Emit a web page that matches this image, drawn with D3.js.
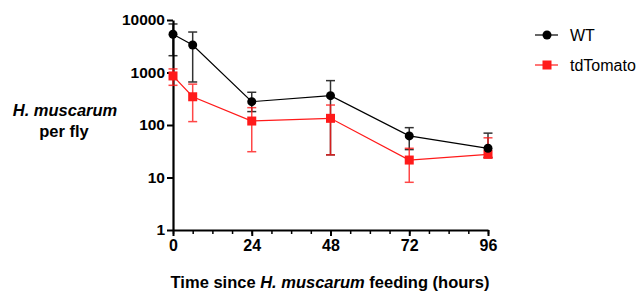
<!DOCTYPE html>
<html>
<head>
<meta charset="utf-8">
<script src="https://cdn.jsdelivr.net/npm/d3@7"></script>
<style>
  body { margin: 0; background: #fff; }
  #chart { width: 640px; height: 295px; }
  text { font-family: "Liberation Sans", Arial, sans-serif; }
</style>
</head>
<body>
<div id="chart"></div>
<script>
// time points (hours)
let hours = [0, 6, 24, 48, 72, 96];

// WT mean and error bar ends
let wtMean = [5340, 3340, 278, 362, 62, 36];
let wtHigh = [8400, 5900, 420, 700, 89, 70];
let wtLow = [2090, 660, 180, 27, 34, 24];

// tdTomato mean and error bar ends
let tdMean = [860, 345, 119, 134, 21.5, 27.6];
let tdHigh = [1170, 600, 214, 240, 36, 57];
let tdLow = [570, 116, 31, 27, 8.1, 24];

let xTicks = [0, 24, 48, 72, 96];
let xMinorTicks = d3.range(0, 97, 6);
let yTicks = [1, 10, 100, 1000, 10000];

function initChart() {
    let margin = { top: 20, left: 173 };
    let width = 315, height = 210;

    let svg = d3.select("#chart").append("svg")
        .attr("width", 640)
        .attr("height", 295);

    let g = svg.append("g")
        .attr("transform", "translate(" + margin.left + "," + margin.top + ")");

    let xScale = d3.scaleLinear().domain([0, 96]).range([0, width]);
    let yScale = d3.scaleLog().domain([1, 10000]).range([height, 0]);

    // minor x ticks
    g.append("g")
        .attr("transform", "translate(0," + height + ")")
        .call(d3.axisBottom(xScale).tickValues(xMinorTicks).tickSize(4).tickFormat(""))
        .call(a => a.select(".domain").remove())
        .selectAll("line").attr("stroke-width", 1.5);

    // x axis
    let xAxis = g.append("g")
        .attr("transform", "translate(0," + height + ")")
        .call(d3.axisBottom(xScale).tickValues(xTicks).tickSize(6).tickSizeOuter(0).tickFormat(d3.format("d")));
    xAxis.select(".domain").attr("stroke-width", 2.2);
    xAxis.selectAll(".tick line").attr("stroke-width", 2);
    xAxis.selectAll(".tick text")
        .attr("y", 10)
        .style("font-size", "16px")
        .style("font-weight", "bold")
        .attr("fill", "#000");

    // y axis
    let yAxis = g.append("g")
        .call(d3.axisLeft(yScale).tickValues(yTicks).tickSize(6).tickSizeOuter(0).tickFormat(d3.format("d")));
    yAxis.select(".domain").attr("stroke-width", 2.2);
    yAxis.selectAll(".tick line").attr("stroke-width", 2);
    yAxis.selectAll(".tick text")
        .attr("x", -8)
        .style("font-size", "15.5px")
        .style("font-weight", "bold")
        .attr("fill", "#000");

    let series = [
        { name: "WT", color: "#000", mean: wtMean, high: wtHigh, low: wtLow, shape: "circle" },
        { name: "tdTomato", color: "#ff1a1a", mean: tdMean, high: tdHigh, low: tdLow, shape: "square" }
    ];

    // error bars first, drawn per series
    series.forEach(s => {
        let data = hours.map((h, i) => ({ h: h, m: s.mean[i], hi: s.high[i], lo: s.low[i] }));
        let eb = g.append("g").attr("stroke", s.color).attr("stroke-width", 1.5).attr("opacity", 0.8);
        eb.selectAll(".v").data(data).enter().append("line")
            .attr("x1", d => xScale(d.h)).attr("x2", d => xScale(d.h))
            .attr("y1", d => yScale(d.lo)).attr("y2", d => yScale(d.hi));
        eb.selectAll(".capH").data(data).enter().append("line")
            .attr("x1", d => xScale(d.h) - 4.5).attr("x2", d => xScale(d.h) + 4.5)
            .attr("y1", d => yScale(d.hi)).attr("y2", d => yScale(d.hi));
        eb.selectAll(".capL").data(data).enter().append("line")
            .attr("x1", d => xScale(d.h) - 4.5).attr("x2", d => xScale(d.h) + 4.5)
            .attr("y1", d => yScale(d.lo)).attr("y2", d => yScale(d.lo));
    });

    // lines and markers
    series.slice().reverse().forEach(s => {
        let data = hours.map((h, i) => ({ h: h, m: s.mean[i] }));
        g.append("path")
            .datum(data)
            .attr("fill", "none")
            .attr("stroke", s.color)
            .attr("stroke-width", 1.2)
            .attr("d", d3.line().x(d => xScale(d.h)).y(d => yScale(d.m)));
        if (s.shape === "circle") {
            g.selectAll(".pt-" + s.name).data(data).enter().append("circle")
                .attr("cx", d => xScale(d.h)).attr("cy", d => yScale(d.m))
                .attr("r", 4.5).attr("fill", s.color);
        } else {
            g.selectAll(".pt-" + s.name).data(data).enter().append("rect")
                .attr("x", d => xScale(d.h) - 4.5).attr("y", d => yScale(d.m) - 4.5)
                .attr("width", 9).attr("height", 9).attr("fill", s.color);
        }
    });

    // legend
    let legend = svg.append("g").attr("transform", "translate(535,35)");
    series.forEach((s, i) => {
        let row = legend.append("g").attr("transform", "translate(0," + (i * 30) + ")");
        row.append("line").attr("x1", 0).attr("x2", 23).attr("stroke", s.color).attr("stroke-width", 1.2);
        if (s.shape === "circle") {
            row.append("circle").attr("cx", 12).attr("r", 4.5).attr("fill", s.color);
        } else {
            row.append("rect").attr("x", 7.5).attr("y", -4.5).attr("width", 9).attr("height", 9).attr("fill", s.color);
        }
        row.append("text").attr("x", 35).attr("dy", "0.36em")
            .style("font-size", "16px").attr("fill", "#000").text(s.name);
    });

    // y axis title
    let yt = svg.append("text")
        .attr("text-anchor", "middle")
        .style("font-size", "16.5px")
        .style("font-weight", "bold");
    yt.append("tspan").attr("x", 65).attr("y", 116).style("font-style", "italic").text("H. muscarum");
    yt.append("tspan").attr("x", 64).attr("y", 137).text("per fly");

    // x axis title
    let xt = svg.append("text")
        .attr("x", 330).attr("y", 288)
        .attr("text-anchor", "middle")
        .style("font-size", "16.5px")
        .style("font-weight", "bold");
    xt.append("tspan").text("Time since ");
    xt.append("tspan").style("font-style", "italic").text("H. muscarum");
    xt.append("tspan").text(" feeding (hours)");
}

initChart();
</script>
</body>
</html>
